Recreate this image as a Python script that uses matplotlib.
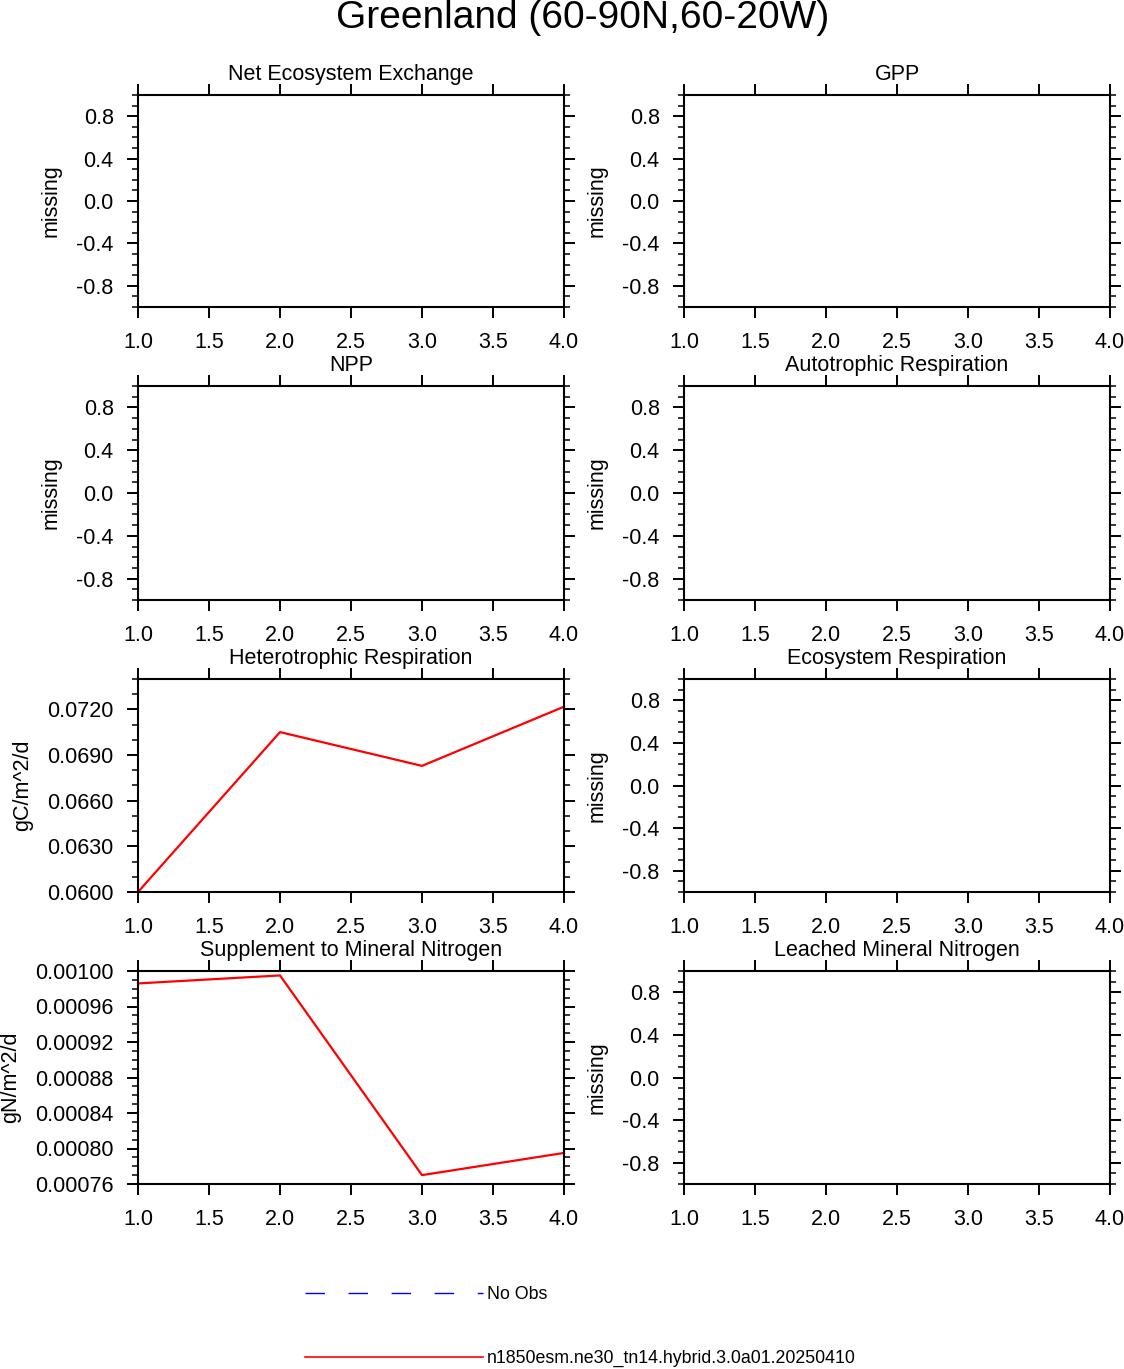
import numpy as np
import matplotlib
matplotlib.use("Agg")
import matplotlib.pyplot as plt
from matplotlib.lines import Line2D
from matplotlib.ticker import MultipleLocator, FormatStrFormatter

plt.rcParams['font.family'] = ['Liberation Sans', 'DejaVu Sans']
plt.rcParams['axes.unicode_minus'] = False

# data
years = [1.0, 2.0, 3.0, 4.0]
titles = ["Net Ecosystem Exchange", "GPP", "NPP", "Autotrophic Respiration",
          "Heterotrophic Respiration", "Ecosystem Respiration",
          "Supplement to Mineral Nitrogen", "Leached Mineral Nitrogen"]
units = ["missing", "missing", "missing", "missing",
         "gC/m^2/d", "missing", "gN/m^2/d", "missing"]
hr_vals = [0.0600, 0.07051, 0.06829, 0.07218]
sminn_vals = [0.000986, 0.000995, 0.000770, 0.000795]
series = {4: hr_vals, 6: sminn_vals}
case_name = "n1850esm.ne30_tn14.hybrid.3.0a01.20250410"

W, H = 1124, 1369
fig = plt.figure(figsize=(W / 100, H / 100), dpi=100)

col_x = [138, 684]
row_y = [(95, 307), (386, 600), (679, 892), (971, 1184)]
ax_w = 426
fs = 15.5

fig.text(0.518, 1 - 18 / H, "Greenland (60-90N,60-20W)", ha='center', va='center', fontsize=28)

for i in range(8):
    r, c = divmod(i, 2)
    top, bot = row_y[r]
    ax = fig.add_axes([col_x[c] / W, 1 - bot / H, ax_w / W, (bot - top) / H])
    ax.set_xlim(1.0, 4.0)
    ax.xaxis.set_major_locator(MultipleLocator(0.5))
    ax.xaxis.set_major_formatter(FormatStrFormatter('%.1f'))
    if i in series:
        ax.plot(years, series[i], color='red', lw=1.6, clip_on=False)
        if i == 4:
            ax.set_ylim(0.0600, 0.0740)
            ax.yaxis.set_major_locator(MultipleLocator(0.003))
            ax.yaxis.set_minor_locator(MultipleLocator(0.001))
            ax.yaxis.set_major_formatter(FormatStrFormatter('%.4f'))
            lab_right = 33
        else:
            ax.set_ylim(0.00076, 0.00100)
            ax.yaxis.set_major_locator(MultipleLocator(0.00004))
            ax.yaxis.set_minor_locator(MultipleLocator(0.00001))
            ax.yaxis.set_major_formatter(FormatStrFormatter('%.5f'))
            lab_right = 21
    else:
        ax.set_ylim(-1.0, 1.0)
        ax.set_yticks([-0.8, -0.4, 0.0, 0.4, 0.8])
        ax.yaxis.set_minor_locator(MultipleLocator(0.1))
        ax.yaxis.set_major_formatter(FormatStrFormatter('%.1f'))
        lab_right = col_x[c] - 76
    ax.set_ylabel(units[i], fontsize=fs)
    ax.yaxis.set_label_coords((lab_right - col_x[c]) / ax_w, 0.5)
    ax.set_title(titles[i], fontsize=fs, pad=11)
    for s in ax.spines.values():
        s.set_linewidth(1.5)
    ax.tick_params(which='major', direction='out', top=True, right=True,
                   length=8, width=1.4, labelsize=fs, pad=9.5)
    ax.tick_params(axis='x', which='major', pad=10)
    ax.tick_params(which='minor', direction='out', right=True, length=4, width=1.1)

handles = [Line2D([], [], color='blue', lw=1, dashes=(14, 17)),
           Line2D([], [], color='red', lw=1.2)]
fig.legend(handles, ["No Obs", case_name], loc='center left',
           bbox_to_anchor=(305 / W, 1 - 1326.5 / H), frameon=False,
           fontsize=12.8, handlelength=10, handletextpad=0.22,
           labelspacing=2.63, borderpad=0, borderaxespad=0)

fig.savefig("out.png", dpi=100)
